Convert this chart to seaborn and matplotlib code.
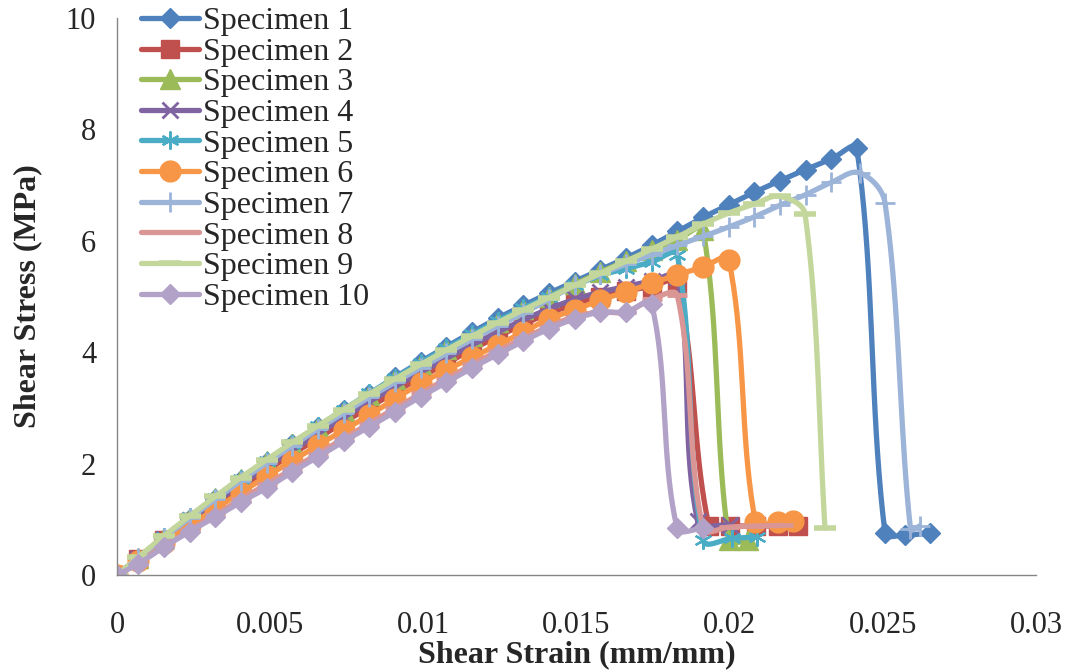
import numpy as np
import seaborn as sns
import matplotlib.pyplot as plt
from matplotlib.lines import Line2D

sns.set_style('white')
plt.rcParams['font.family'] = ['Liberation Serif', 'DejaVu Serif']

# strain readings shared by the loading part of every test (mm/mm)
strain_steps = [0, 0.00069, 0.00153, 0.00237, 0.00321, 0.00404, 0.00488, 0.00572, 0.00656, 0.0074,
                0.00823, 0.00907, 0.00991, 0.01075, 0.01159, 0.01242, 0.01326, 0.0141, 0.01494, 0.01578,
                0.01661, 0.01745, 0.01829, 0.01913, 0.01997, 0.0208, 0.02164, 0.02248, 0.02332, 0.02415]

labels = ['Specimen %d' % i for i in range(1, 11)]

# shear stress on the loading part (MPa)
stress_1 = [0, 0.29, 0.65, 1.0, 1.36, 1.7, 2.03, 2.35, 2.66, 2.96, 3.25, 3.55, 3.83, 4.1, 4.36, 4.61, 4.84,
            5.06, 5.27, 5.48, 5.69, 5.92, 6.17, 6.42, 6.65, 6.87, 7.08, 7.28, 7.47, 7.66]
stress_2 = [0, 0.28, 0.62, 0.95, 1.27, 1.58, 1.88, 2.17, 2.46, 2.74, 3.01, 3.28, 3.55, 3.8, 4.05, 4.28, 4.5,
            4.7, 4.86, 5.0, 5.1, 5.18, 5.25]
stress_3 = [0, 0.3, 0.67, 1.03, 1.38, 1.72, 2.04, 2.35, 2.65, 2.95, 3.24, 3.52, 3.79, 4.05, 4.3, 4.54, 4.77,
            5.0, 5.22, 5.44, 5.64, 5.84, 6.02, 6.2]
stress_4 = [0, 0.29, 0.64, 0.98, 1.31, 1.63, 1.94, 2.24, 2.54, 2.83, 3.11, 3.38, 3.64, 3.89, 4.13, 4.36, 4.58,
            4.78, 4.95, 5.08, 5.18, 5.28, 5.35]
stress_5 = [0, 0.31, 0.68, 1.04, 1.39, 1.73, 2.05, 2.36, 2.67, 2.97, 3.26, 3.54, 3.81, 4.07, 4.32, 4.56, 4.79,
            5.0, 5.2, 5.38, 5.5, 5.62, 5.75]
stress_6 = [0, 0.26, 0.58, 0.89, 1.19, 1.48, 1.77, 2.05, 2.33, 2.6, 2.87, 3.16, 3.44, 3.68, 3.91, 4.13, 4.36,
            4.6, 4.76, 4.94, 5.08, 5.24, 5.39, 5.53, 5.66]
stress_7 = [0, 0.3, 0.67, 1.02, 1.36, 1.69, 2.01, 2.32, 2.62, 2.91, 3.19, 3.46, 3.72, 3.98, 4.23, 4.47, 4.7,
            4.95, 5.2, 5.4, 5.58, 5.75, 5.92, 6.08, 6.25, 6.43, 6.64, 6.83, 7.05]
stress_8 = [0, 0.22, 0.52, 0.8, 1.08, 1.36, 1.63, 1.9, 2.18, 2.45, 2.72, 2.99, 3.26, 3.52, 3.78, 4.02, 4.25,
            4.46, 4.64, 4.72, 4.72, 4.95, 5.02]
stress_9 = [0, 0.32, 0.7, 1.06, 1.41, 1.75, 2.07, 2.38, 2.68, 2.97, 3.25, 3.52, 3.78, 4.04, 4.29, 4.53, 4.76,
            4.98, 5.2, 5.42, 5.63, 5.85, 6.07, 6.3, 6.5, 6.66, 6.8]
stress_10 = [0, 0.2, 0.5, 0.78, 1.04, 1.31, 1.56, 1.85, 2.12, 2.4, 2.66, 2.93, 3.2, 3.46, 3.72, 3.96, 4.2,
             4.42, 4.6, 4.72, 4.72, 4.87]

# points after failure
tail_strain_1 = [0.02507, 0.02572, 0.02654]
tail_stress_1 = [0.75, 0.72, 0.75]
tail_strain_2 = [0.01932, 0.02001, 0.02086, 0.02158, 0.02223]
tail_stress_2 = [0.88, 0.88, 0.88, 0.88, 0.88]
tail_strain_3 = [0.01997, 0.0206]
tail_stress_3 = [0.62, 0.62]
tail_strain_4 = [0.01895, 0.02]
tail_stress_4 = [0.97, 0.9]
tail_strain_5 = [0.01913, 0.02008, 0.02089]
tail_stress_5 = [0.62, 0.66, 0.68]
tail_strain_6 = [0.02084, 0.02159, 0.02207]
tail_stress_6 = [0.95, 0.96, 0.97]
tail_strain_7 = [0.02425, 0.02507, 0.0259, 0.0262]
tail_stress_7 = [7.22, 6.68, 0.82, 0.88]
tail_strain_8 = [0.01913, 0.01997, 0.0208, 0.02174]
tail_stress_8 = [0.83, 0.86, 0.88, 0.89]
tail_strain_9 = [0.02246, 0.02311]
tail_stress_9 = [6.48, 0.84]
tail_strain_10 = [0.01828, 0.01913]
tail_stress_10 = [0.84, 0.84]

stress = [stress_1, stress_2, stress_3, stress_4, stress_5, stress_6, stress_7, stress_8, stress_9, stress_10]
tail_strain = [tail_strain_1, tail_strain_2, tail_strain_3, tail_strain_4, tail_strain_5,
               tail_strain_6, tail_strain_7, tail_strain_8, tail_strain_9, tail_strain_10]
tail_stress = [tail_stress_1, tail_stress_2, tail_stress_3, tail_stress_4, tail_stress_5,
               tail_stress_6, tail_stress_7, tail_stress_8, tail_stress_9, tail_stress_10]

colors = ['#4F81BD', '#C0504D', '#9BBB59', '#8064A2', '#4BACC6',
          '#F79646', '#9DB4D9', '#D99694', '#C3D69B', '#B3A2C7']
markers = ['D', 's', '^', 'x', (6, 2, 0), 'o', '+', '_', '_', 'D']
msizes = [10, 13, 14, 11, 13, 15, 14, 15, 16, 10]
mews = [1, 1, 1, 2, 1.6, 1, 2, 3.5, 4, 1]


def smooth(ax, x, y, n=20, k=0.33):
    # excel style smoothed line, bezier built in screen space
    p = ax.transData.transform(np.column_stack([x, y]))
    out = [p[:1]]
    t = np.linspace(0, 1, n)[1:, None]

    def unit(v):
        d = np.hypot(*v)
        return v / d if d > 0 else v

    for i in range(len(p) - 1):
        p0 = p[max(i - 1, 0)]
        p1 = p[i]
        p2 = p[i + 1]
        p3 = p[min(i + 2, len(p) - 1)]
        L = np.hypot(*(p2 - p1))
        c1 = p1 + unit(p2 - p0) * L * k
        c2 = p2 - unit(p3 - p1) * L * k
        seg = (1 - t) ** 3 * p1 + 3 * (1 - t) ** 2 * t * c1 + 3 * (1 - t) * t ** 2 * c2 + t ** 3 * p2
        out.append(seg)
    out = ax.transData.inverted().transform(np.vstack(out))
    return out[:, 0], out[:, 1]


fig, ax = plt.subplots(figsize=(10.67, 6.7), dpi=100)
fig.subplots_adjust(left=0.1097, right=0.971, bottom=0.1418, top=0.973)
ax.set_xlim(0, 0.03)
ax.set_ylim(0, 10)

handles = []
for i in range(10):
    x = strain_steps[:len(stress[i])] + tail_strain[i]
    y = stress[i] + tail_stress[i]
    sx, sy = smooth(ax, x, y)
    sns.lineplot(x=sx, y=sy, sort=False, estimator=None, color=colors[i], lw=3.8, ax=ax, legend=False)
    ax.plot(x, y, ls='none', marker=markers[i], ms=msizes[i], mew=mews[i],
            color=colors[i], mec=colors[i], mfc=colors[i])
    handles.append(Line2D([], [], color=colors[i], lw=3.8, marker=markers[i], ms=msizes[i],
                          mew=mews[i], mec=colors[i], mfc=colors[i]))

ax.set_xlim(0, 0.03)
ax.set_ylim(0, 10)
ax.set_xticks([0, 0.005, 0.01, 0.015, 0.02, 0.025, 0.03])
ax.set_xticklabels(['0', '0.005', '0.01', '0.015', '0.02', '0.025', '0.03'])
ax.set_yticks([0, 2, 4, 6, 8, 10])
ax.tick_params(axis='x', direction='out', length=6, width=1, color='#868686', pad=20, labelsize=22)
ax.tick_params(axis='y', direction='out', length=6, width=1, color='#868686', pad=9, labelsize=22)
sns.despine(ax=ax)
for s in ['left', 'bottom']:
    ax.spines[s].set_color('#868686')
    ax.spines[s].set_linewidth(1)

ax.set_xlabel('Shear Strain (mm/mm)', fontsize=23, fontweight='bold', labelpad=0)
ax.set_ylabel('Shear Stress (MPa)', fontsize=23, fontweight='bold', labelpad=17)

ax.legend(handles, labels, loc='upper left', bbox_to_anchor=(141 / 1067, 0.99), bbox_transform=fig.transFigure,
          frameon=False, fontsize=23, handlelength=1.8, handletextpad=0.15, labelspacing=0.04,
          borderpad=0, borderaxespad=0)

plt.savefig('out.png', dpi=100)
